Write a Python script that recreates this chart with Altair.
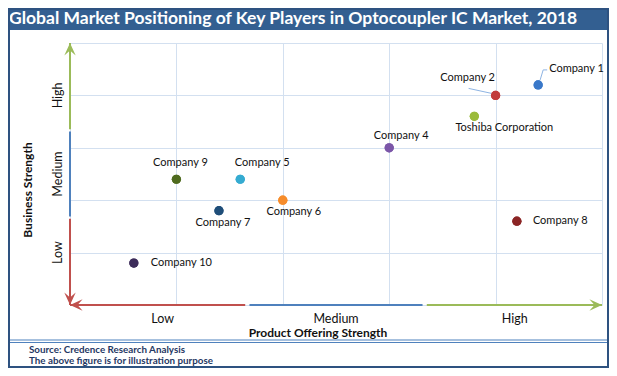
import altair as alt
import pandas as pd

# ---------------- data ----------------
companies = ["Company 1", "Company 2", "Toshiba Corporation", "Company 4", "Company 5",
             "Company 6", "Company 7", "Company 8", "Company 9", "Company 10"]
product_strength = [4.4, 4.0, 3.8, 3.0, 1.6, 2.0, 1.4, 4.2, 1.0, 0.6]
business_strength = [4.2, 4.0, 3.6, 3.0, 2.4, 2.0, 1.8, 1.6, 2.4, 0.8]
levels = ["Low", "Medium", "High"]
x_level_center = [0.87, 2.5, 4.18]
y_level_center = [1.0, 2.5, 4.0]
grid_values = [0, 1, 2, 3, 4, 5]
title_text = "Global Market Positioning of Key Players in Optocoupler IC Market, 2018"
x_title = "Product Offering Strength"
y_title = "Business Strength"
footer_lines = ["Source: Credence Research Analysis", "The above figure is for illustration purpose"]

# ---------------- styles ----------------
point_colors = ["#3a78c9", "#c23b3b", "#9bbb3b", "#7b56a8", "#35abd1",
                "#f68c2b", "#1f4e79", "#8b2525", "#4f6b1f", "#3d2c5a"]
level_colors = ["#c0504d", "#4f81bd", "#9bbb59"]
FONT = "Lato"
W, H = 532, 262
GAP = 0.02

label_style = {
    "Company 1": ("left", 11, -16),
    "Company 2": ("center", -28, -17),
    "Toshiba Corporation": ("center", 30, 12),
    "Company 4": ("center", 12, -12),
    "Company 5": ("center", 22, -16),
    "Company 6": ("center", 11, 12),
    "Company 7": ("center", 4, 12),
    "Company 8": ("left", 16, 0),
    "Company 9": ("center", 4, -16),
    "Company 10": ("left", 17, 0),
}
leaders = {
    "Company 1": [(2, -5, 5, -15), (5, -15, 9, -15)],
    "Company 2": [(-27, -7, -4, -2)],
}

xs = alt.Scale(domain=[0, 5], nice=False, zero=False)
ys = alt.Scale(domain=[0, 5], nice=False, zero=False)
AX = alt.Axis(values=grid_values, labels=False, ticks=False, domain=False,
              grid=True, gridColor="#d3e0f0", gridWidth=1)


def X(f="x"):
    return alt.X(f"{f}:Q", scale=xs, title=None, axis=AX)


def Y(f="y"):
    return alt.Y(f"{f}:Q", scale=ys, title=None, axis=AX)


df = pd.DataFrame({"company": companies, "x": product_strength, "y": business_strength})
dummy = pd.DataFrame({"d": [0]})

layers = []

# title bar
layers.append(alt.Chart(dummy).mark_rect(color="#335f91").encode(
    x=alt.value(-62), x2=alt.value(539), y=alt.value(-35), y2=alt.value(-13)))
layers.append(alt.Chart(dummy).mark_text(
    align="left", baseline="alphabetic", font=FONT, fontSize=17.5, fontWeight="bold", color="white"
).encode(x=alt.value(-61), y=alt.value(-19), text=alt.value(title_text)))

# points base (carries grid)
points = alt.Chart(df).mark_circle(size=85, opacity=1).encode(
    x=X(), y=Y(),
    color=alt.Color("company:N", scale=alt.Scale(domain=companies, range=point_colors), legend=None),
)
layers.append(points)

# colored axis segments
for i, lvl in enumerate(levels):
    lo = i * 5 / 3 + (GAP if i > 0 else 0)
    hi = (i + 1) * 5 / 3 - (GAP if i < 2 else 0)
    seg_h = pd.DataFrame({"x": [lo], "x2": [hi], "y": [0]})
    seg_v = pd.DataFrame({"y": [lo], "y2": [hi], "x": [0]})
    layers.append(alt.Chart(seg_h).mark_rule(color=level_colors[i], strokeWidth=2).encode(
        x=X(), x2="x2:Q", y=Y()))
    layers.append(alt.Chart(seg_v).mark_rule(color=level_colors[i], strokeWidth=2).encode(
        y=Y(), y2="y2:Q", x=X()))

# arrow heads
arrows = [
    (0, 5, 2, "M0,0 L-0.95,2.1 L0,1.25 L0.95,2.1 Z"),
    (5, 0, 2, "M0,0 L-2.1,-0.95 L-1.25,0 L-2.1,0.95 Z"),
    (0, 0, 0, "M0,0 L-0.95,-2.1 L0,-1.25 L0.95,-2.1 Z"),
    (0, 0, 0, "M0,0 L2.1,-0.95 L1.25,0 L2.1,0.95 Z"),
]
for ax_, ay_, ci, path in arrows:
    layers.append(alt.Chart(pd.DataFrame({"x": [ax_], "y": [ay_]})).mark_point(
        shape=path, filled=True, size=144, opacity=1, color=level_colors[ci], strokeWidth=0
    ).encode(x=X(), y=Y()))

# leader lines
for comp, segs in leaders.items():
    for (x1, y1, x2, y2) in segs:
        layers.append(alt.Chart(df).transform_filter(alt.datum.company == comp).mark_rule(
            color="#8eb4e3", strokeWidth=1, xOffset=x1, yOffset=y1, x2Offset=x2, y2Offset=y2
        ).encode(x=X(), x2="x:Q", y=Y(), y2="y:Q"))

# re-draw points above lines
layers.append(points)

# company labels
for comp, (al, dx, dy) in label_style.items():
    layers.append(alt.Chart(df).transform_filter(alt.datum.company == comp).mark_text(
        align=al, baseline="middle", dx=dx, dy=dy, font=FONT, fontSize=11, color="#111"
    ).encode(x=X(), y=Y(), text="company:N"))

# level labels
layers.append(alt.Chart(pd.DataFrame({"x": x_level_center, "label": levels})).mark_text(
    font=FONT, fontSize=12.5, color="#111", baseline="middle"
).encode(x=X(), y=alt.value(276), text="label:N"))
layers.append(alt.Chart(pd.DataFrame({"y": y_level_center, "label": levels})).mark_text(
    font=FONT, fontSize=12.5, color="#111", baseline="middle", angle=270
).encode(y=Y(), x=alt.value(-12), text="label:N"))

# axis titles
layers.append(alt.Chart(dummy).mark_text(
    font=FONT, fontSize=12, fontWeight="bold", color="#111", baseline="middle"
).encode(x=alt.value(248), y=alt.value(290), text=alt.value(x_title)))
layers.append(alt.Chart(dummy).mark_text(
    font=FONT, fontSize=12, fontWeight="bold", color="#111", baseline="middle", angle=270
).encode(x=alt.value(-42), y=alt.value(147), text=alt.value(y_title)))

# footer separator
for yy in (297, 299.5):
    layers.append(alt.Chart(dummy).mark_rule(color="#4f81bd", strokeWidth=1.2).encode(
        x=alt.value(-61), x2=alt.value(538), y=alt.value(yy)))
for i, line in enumerate(footer_lines):
    layers.append(alt.Chart(dummy).mark_text(
        align="left", baseline="middle", font=FONT, fontSize=9.8, fontWeight="bold", color="#1f3864"
    ).encode(x=alt.value(-41), y=alt.value(307 + 10.5 * i), text=alt.value(line)))

# outer frame
layers.append(alt.Chart(dummy).mark_rect(filled=False, stroke="#2e5280", strokeWidth=2).encode(
    x=alt.value(-61), x2=alt.value(538), y=alt.value(-34), y2=alt.value(324)))

chart = alt.layer(*layers).properties(
    width=W, height=H,
    autosize=alt.AutoSizeParams(type="none"),
    padding={"left": 62, "top": 35, "right": 7, "bottom": 63},
    background="white",
).configure_view(stroke=None)

chart.save("out.html", embed_options={"renderer": "svg", "actions": False})
